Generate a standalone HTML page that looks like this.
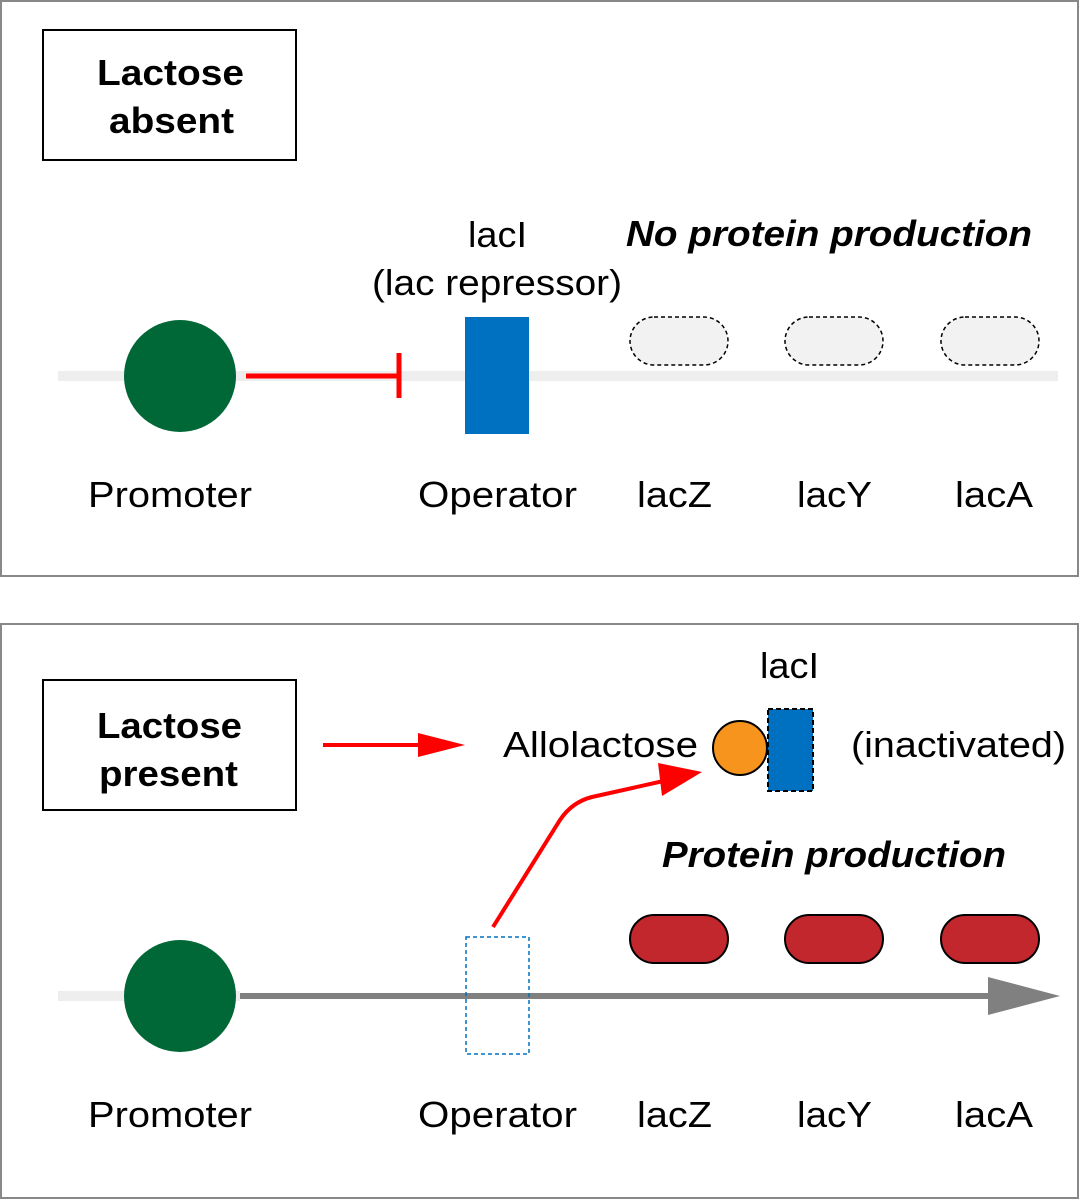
<!DOCTYPE html>
<html><head><style>html,body{margin:0;padding:0;background:#fff}svg{display:block}</style></head><body>
<svg width="1080" height="1200" viewBox="0 0 1080 1200" xmlns="http://www.w3.org/2000/svg" font-family="Liberation Sans, sans-serif">
<rect x="1" y="1" width="1077" height="575" fill="#fff" stroke="#888" stroke-width="2"/>
<rect x="1" y="624" width="1077" height="574" fill="#fff" stroke="#888" stroke-width="2"/>
<!-- top -->
<rect x="43" y="30" width="253" height="130" fill="#fff" stroke="#000" stroke-width="2"/>
<g font-size="36" lengthAdjust="spacingAndGlyphs">
<text x="97" y="85" font-weight="bold" textLength="147" lengthAdjust="spacingAndGlyphs">Lactose</text>
<text x="109" y="133" font-weight="bold" textLength="125" lengthAdjust="spacingAndGlyphs">absent</text>
<text x="468" y="247" textLength="59" lengthAdjust="spacingAndGlyphs">lacI</text>
<text x="372" y="295" textLength="250" lengthAdjust="spacingAndGlyphs">(lac repressor)</text>
<text x="626" y="246" font-weight="bold" font-style="italic" textLength="406" lengthAdjust="spacingAndGlyphs">No protein production</text>
<text x="88" y="507" textLength="164" lengthAdjust="spacingAndGlyphs">Promoter</text>
<text x="418" y="507" textLength="159" lengthAdjust="spacingAndGlyphs">Operator</text>
<text x="637" y="507" textLength="75" lengthAdjust="spacingAndGlyphs">lacZ</text>
<text x="797" y="507" textLength="75" lengthAdjust="spacingAndGlyphs">lacY</text>
<text x="955" y="507" textLength="78" lengthAdjust="spacingAndGlyphs">lacA</text>
</g>
<line x1="58" y1="376" x2="1058" y2="376" stroke="#eee" stroke-width="10"/>
<circle cx="180" cy="376" r="56" fill="#006837"/>
<line x1="246" y1="376" x2="398" y2="376" stroke="#f00" stroke-width="5"/>
<line x1="399" y1="353" x2="399" y2="398" stroke="#f00" stroke-width="5"/>
<rect x="465" y="317" width="64" height="117" fill="#0070c0"/>
<g fill="#f2f2f2" stroke="#000" stroke-width="1.5" stroke-dasharray="4,3">
<rect x="630" y="317" width="98" height="48" rx="24"/>
<rect x="785" y="317" width="98" height="48" rx="24"/>
<rect x="941" y="317" width="98" height="48" rx="24"/>
</g>
<!-- bottom -->
<rect x="43" y="680" width="253" height="130" fill="#fff" stroke="#000" stroke-width="2"/>
<g font-size="36">
<text x="97" y="738" font-weight="bold" textLength="145" lengthAdjust="spacingAndGlyphs">Lactose</text>
<text x="99" y="786" font-weight="bold" textLength="139" lengthAdjust="spacingAndGlyphs">present</text>
<text x="503" y="757" textLength="195" lengthAdjust="spacingAndGlyphs">Allolactose</text>
<text x="760" y="678" textLength="59" lengthAdjust="spacingAndGlyphs">lacI</text>
<text x="851" y="757" textLength="215" lengthAdjust="spacingAndGlyphs">(inactivated)</text>
<text x="662" y="867" font-weight="bold" font-style="italic" textLength="344" lengthAdjust="spacingAndGlyphs">Protein production</text>
<text x="88" y="1127" textLength="164" lengthAdjust="spacingAndGlyphs">Promoter</text>
<text x="418" y="1127" textLength="159" lengthAdjust="spacingAndGlyphs">Operator</text>
<text x="637" y="1127" textLength="75" lengthAdjust="spacingAndGlyphs">lacZ</text>
<text x="797" y="1127" textLength="75" lengthAdjust="spacingAndGlyphs">lacY</text>
<text x="955" y="1127" textLength="78" lengthAdjust="spacingAndGlyphs">lacA</text>
</g>
<line x1="323" y1="745" x2="425" y2="745" stroke="#f00" stroke-width="4"/>
<polygon points="465,745 418,733 418,757" fill="#f00"/>
<circle cx="740" cy="748" r="27" fill="#f7941d" stroke="#000" stroke-width="2"/>
<rect x="768" y="709" width="45" height="82" fill="#0070c0" stroke="#000" stroke-width="2" stroke-dasharray="5,3"/>
<path d="M493,927 L560,820 Q572,802 592,797 L668,780" fill="none" stroke="#f00" stroke-width="4"/>
<polygon points="702,772 658,763 662,796" fill="#f00"/>
<g fill="#c1272d" stroke="#000" stroke-width="2">
<rect x="630" y="915" width="98" height="48" rx="24"/>
<rect x="785" y="915" width="98" height="48" rx="24"/>
<rect x="941" y="915" width="98" height="48" rx="24"/>
</g>
<line x1="58" y1="996" x2="240" y2="996" stroke="#eee" stroke-width="10"/>
<line x1="240" y1="996" x2="995" y2="996" stroke="#808080" stroke-width="6"/>
<polygon points="1060,996 988,977 988,1015" fill="#808080"/>
<circle cx="180" cy="996" r="56" fill="#006837"/>
<rect x="466" y="937" width="63" height="117" fill="none" stroke="#0070c0" stroke-width="1.5" stroke-dasharray="4,3"/>
</svg>
</body></html>
